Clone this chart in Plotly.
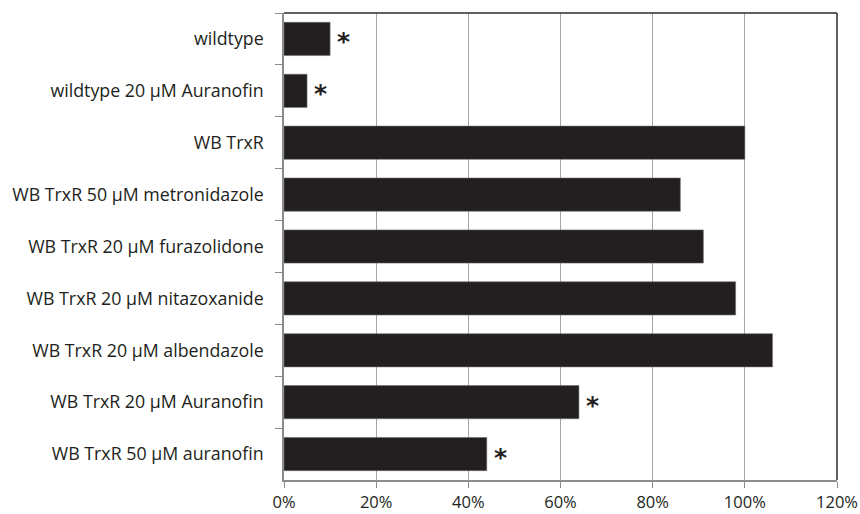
import plotly.graph_objects as go

categories = [
    "wildtype",
    "wildtype 20 µM Auranofin",
    "WB TrxR",
    "WB TrxR 50 µM metronidazole",
    "WB TrxR 20 µM furazolidone",
    "WB TrxR 20 µM nitazoxanide",
    "WB TrxR 20 µM albendazole",
    "WB TrxR 20 µM Auranofin",
    "WB TrxR 50 µM auranofin",
]
values = [0.10, 0.05, 1.00, 0.86, 0.91, 0.98, 1.06, 0.64, 0.44]
significant = [True, True, False, False, False, False, False, True, True]
x_ticks = [0, 0.2, 0.4, 0.6, 0.8, 1.0, 1.2]
x_tick_labels = ["0%", "20%", "40%", "60%", "80%", "100%", "120%"]

font_family = "Open Sans"
W, H = 860, 514
L, R, T, B = 284, 23, 13, 34

fig = go.Figure()
fig.add_trace(go.Bar(
    y=categories, x=values, orientation="h",
    marker=dict(color="#231f20", line=dict(color="#6e6b6b", width=0.6)),
    width=0.64,
))

for cat, v, s in zip(categories, values, significant):
    if s:
        fig.add_annotation(x=v, y=cat, text="<b>*</b>", showarrow=False,
                           xanchor="left", xshift=5, yshift=-3,
                           font=dict(family="DejaVu Sans", size=25, color="#231f20"))

fig.update_layout(
    width=W, height=H,
    margin=dict(l=L, r=R, t=T, b=B),
    paper_bgcolor="white", plot_bgcolor="white",
    showlegend=False,
    font=dict(family=font_family, size=17.8, color="#231f20"),
    xaxis=dict(range=[0, 1.2], tickvals=x_ticks, ticktext=x_tick_labels,
               showgrid=True, gridcolor="#a6a6a6", gridwidth=1.2,
               zeroline=False, showline=True, linecolor="#8c8c8c", linewidth=1.5,
               ticks="outside", ticklen=6, tickcolor="#8c8c8c", tickwidth=1.2,
               tickfont=dict(size=16.5), mirror=False, automargin=False,
               ticklabelstandoff=0),
    yaxis=dict(autorange="reversed", categoryorder="array", categoryarray=categories,
               showgrid=False, zeroline=False, showline=True, linecolor="#8c8c8c", linewidth=1.5,
               ticks="outside", ticklen=7, tickcolor="#8c8c8c", tickwidth=1.2,
               tickson="boundaries", ticklabelstandoff=15, automargin=False),
)
# dark frame on top and right
fig.add_shape(type="line", xref="paper", yref="paper", x0=0, x1=1, y0=1, y1=1,
              line=dict(color="#2b2b2b", width=1.5))
fig.add_shape(type="line", xref="paper", yref="paper", x0=1, x1=1, y0=0, y1=1,
              line=dict(color="#2b2b2b", width=1.5))

fig.write_html("out.html")
